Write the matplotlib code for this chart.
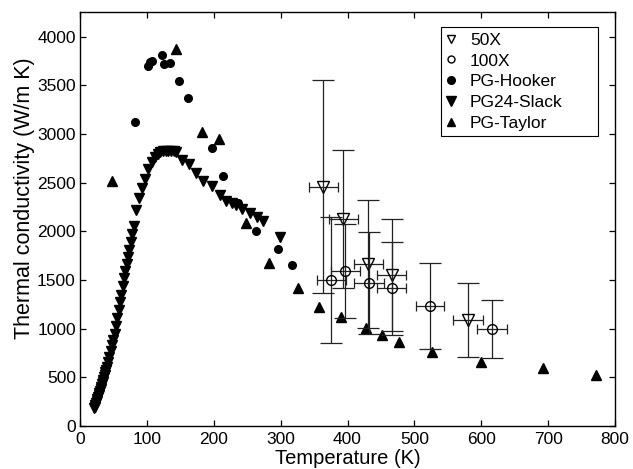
import matplotlib
matplotlib.use("Agg")
import matplotlib.pyplot as plt
from matplotlib.lines import Line2D
from matplotlib.patches import Rectangle

plt.rcParams['font.family'] = ['Liberation Sans', 'DejaVu Sans']

# ---- data ----
x50_T = [364, 394, 431, 466, 580]
x50_K = [2461, 2128, 1666, 1553, 1090]
x50_yerr = [1090, 710, 658, 572, 377]
x50_xerr = [21.5, 21.5, 22, 22, 22]

x100_T = [376, 397, 432, 466, 523, 616]
x100_K = [1501, 1594, 1467, 1416, 1234, 997]
x100_yerr = [650, 487, 525, 479, 439, 300]
x100_xerr = [22, 21, 22, 22, 21, 22]

hooker_T = [82, 101, 104, 107, 122, 126, 134, 148, 161, 197, 214, 237, 263, 296, 317]
hooker_K = [3126, 3695, 3736, 3756, 3808, 3719, 3729, 3541, 3369, 2862, 2571, 2290, 2008, 1823, 1655]

slack_T = [21, 22, 23, 24, 25, 26, 27, 28, 29, 30, 31, 32, 33, 34, 35, 36, 37, 38, 39, 40,
           42, 44, 46, 48, 50, 52, 54, 56, 58, 60, 62, 64, 66, 68, 70, 72, 74, 76, 78, 80,
           84, 88, 92, 97, 102, 107, 112, 116, 120, 124, 128, 132, 136, 140, 144,
           152, 163, 173, 184, 197, 209, 218, 228, 234, 242, 254, 264, 274, 299]
slack_K = [180, 200, 220, 240, 262, 282, 302, 322, 342, 362, 384, 404, 428, 452, 476, 500, 527, 552, 578, 604,
           660, 712, 770, 830, 880, 950, 1030, 1110, 1190, 1270, 1350, 1440, 1520, 1590, 1660, 1740, 1810, 1890, 1970, 2060,
           2221, 2341, 2444, 2537, 2643, 2718, 2769, 2800, 2821, 2828, 2830, 2830, 2830, 2828, 2815,
           2735, 2691, 2605, 2519, 2468, 2375, 2317, 2290, 2273, 2228, 2187, 2152, 2108, 1947]

taylor_T = [48, 143, 183, 208, 248, 283, 326, 357, 390, 428, 451, 477, 527, 599, 692, 772]
taylor_K = [2519, 3877, 3026, 2948, 2084, 1673, 1420, 1227, 1118, 1004, 936, 867, 758, 655, 593, 524]

legend_labels = ['50X', '100X', 'PG-Hooker', 'PG24-Slack', 'PG-Taylor']

# ---- figure ----
W, H = 633, 469
fig = plt.figure(figsize=(W / 100, H / 100), dpi=100)
ax_l, ax_r, ax_t, ax_b = 80, 615, 12, 426
ax = fig.add_axes([ax_l / W, 1 - ax_b / H, (ax_r - ax_l) / W, (ax_b - ax_t) / H])

def axx(px):
    return (px - ax_l) / (ax_r - ax_l)

def axy(py):
    return (ax_b - py) / (ax_b - ax_t)

FS = 12.5
ec = '#222222'

# data series
ax.plot(hooker_T, hooker_K, linestyle='none', marker='o', ms=5.5, color='black', mec='black')
ax.plot(slack_T, slack_K, linestyle='none', marker='v', ms=7, color='black', mec='black')
ax.plot(taylor_T, taylor_K, linestyle='none', marker='^', ms=6.5, color='black', mec='black')

# error bars: vertical (wide caps) and horizontal (short caps)
for T, K, ye, xe, mk, ms in [(x50_T, x50_K, x50_yerr, x50_xerr, 'v', 8),
                              (x100_T, x100_K, x100_yerr, x100_xerr, 'o', 7)]:
    ax.errorbar(T, K, yerr=ye, fmt='none', ecolor=ec, elinewidth=0.9, capsize=8, capthick=0.9)
    ax.errorbar(T, K, xerr=xe, fmt='none', ecolor=ec, elinewidth=0.9, capsize=3.5, capthick=0.9)
    ax.plot(T, K, linestyle='none', marker=mk, ms=ms, mfc='none', mec='black', mew=1.0)

ax.set_xlim(0, 800)
ax.set_ylim(0, 4255)
ax.set_xticks(range(0, 801, 100))
ax.set_yticks(range(0, 4001, 500))
ax.tick_params(direction='in', length=4, width=0.9, top=True, right=True, labelsize=FS, pad=3)
ax.tick_params(axis='x', pad=4)
for s in ax.spines.values():
    s.set_linewidth(1.0)

ax.set_xlabel('Temperature (K)', fontsize=14.5, labelpad=2)
ax.set_ylabel('Thermal conductivity (W/m K)', fontsize=15.5)
ax.yaxis.set_label_coords(-0.084, 0.55)

# legend box (MATLAB-style, wider than its contents)
box_l, box_r, box_t, box_b = 441, 598, 27.3, 136
ax.add_patch(Rectangle((axx(box_l), axy(box_b)), axx(box_r) - axx(box_l), axy(box_t) - axy(box_b),
                       transform=ax.transAxes, facecolor='white', edgecolor='black',
                       linewidth=0.8, zorder=4))

handles = [
    Line2D([], [], linestyle='none', marker='v', ms=5.5, mfc='none', mec='black', mew=1.0),
    Line2D([], [], linestyle='none', marker='o', ms=5, mfc='none', mec='black', mew=1.0),
    Line2D([], [], linestyle='none', marker='o', ms=5.5, color='black'),
    Line2D([], [], linestyle='none', marker='v', ms=7, color='black'),
    Line2D([], [], linestyle='none', marker='^', ms=6, color='black'),
]
leg = ax.legend(handles, legend_labels, loc='upper left', bbox_to_anchor=(axx(445.8), axy(32.5)),
                fontsize=FS, frameon=False, borderaxespad=0, borderpad=0,
                handlelength=0.6, handletextpad=0.79, labelspacing=0.33)
leg.set_zorder(5)

fig.savefig('out.png', dpi=100)
